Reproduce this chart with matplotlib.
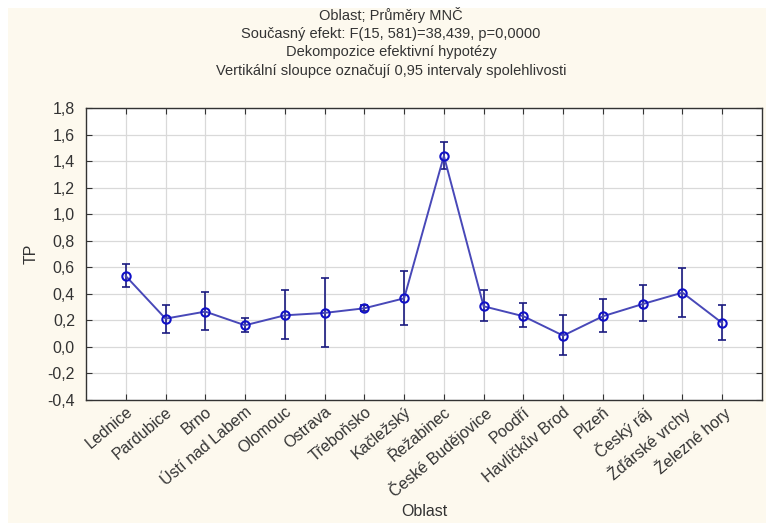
import numpy as np
import matplotlib
matplotlib.use('Agg')
import matplotlib.pyplot as plt
from matplotlib.ticker import FuncFormatter

plt.rcParams['font.family'] = ['Liberation Sans', 'DejaVu Sans']

# Průměry MNČ a 0,95 intervaly spolehlivosti
oblasti = ['Lednice', 'Pardubice', 'Brno', 'Ústí nad Labem', 'Olomouc', 'Ostrava',
           'Třeboňsko', 'Kačležský', 'Řežabinec', 'České Budějovice', 'Poodří',
           'Havlíčkův Brod', 'Plzeň', 'Český ráj', 'Žďárské vrchy', 'Železné hory']
prumer = [0.534, 0.213, 0.266, 0.163, 0.238, 0.256, 0.291, 0.366, 1.439, 0.306,
          0.231, 0.085, 0.231, 0.323, 0.409, 0.180]
horni = [0.625, 0.318, 0.411, 0.216, 0.429, 0.522, 0.312, 0.572, 1.544, 0.429,
         0.329, 0.243, 0.361, 0.464, 0.597, 0.318]
dolni = [0.454, 0.107, 0.125, 0.115, 0.057, -0.003, 0.270, 0.165, 1.343, 0.193,
         0.150, -0.061, 0.110, 0.193, 0.225, 0.050]

x = np.arange(len(oblasti))
prumer = np.array(prumer)
chyba = [prumer - np.array(dolni), np.array(horni) - prumer]

fig = plt.figure(figsize=(7.66, 5.23), dpi=100, facecolor='white')
# krémové pozadí grafu
fig.patches.append(plt.Rectangle((8 / 766, 0), 1, 1 - 8 / 523, transform=fig.transFigure,
                                 facecolor='#fdf9ee', edgecolor='none', zorder=-1))
ax = fig.add_axes([86 / 766, 123 / 523, 676 / 766, 292 / 523])
ax.set_facecolor('white')

ax.errorbar(x, prumer, yerr=chyba, fmt='none', ecolor='#1a1a80', elinewidth=1.2,
            capsize=3, capthick=1.2, zorder=3)
ax.plot(x, prumer, color='#4848b8', lw=1.4, marker='o', ms=6, mfc='none',
        mec='#1010c8', mew=1.5, zorder=4)

ax.set_xlim(-1, len(oblasti))
ax.set_ylim(-0.4, 1.8)
ax.set_yticks(np.arange(-0.4, 1.81, 0.2))
ax.yaxis.set_major_formatter(FuncFormatter(lambda v, p: f'{v:.1f}'.replace('.', ',').replace('-0,0', '0,0')))
ax.set_xticks(x)
ax.set_xticklabels(oblasti, rotation=40, ha='right', rotation_mode='anchor')
ax.grid(True, color='#d9d9d9', lw=0.9)
ax.set_axisbelow(True)
ax.tick_params(direction='in', top=True, right=True, length=4, color='#333333',
               labelsize=11.5, labelcolor='#333333')
ax.tick_params(axis='y', pad=8)
ax.tick_params(axis='x', pad=3)
for s in ax.spines.values():
    s.set_color('#333333')
    s.set_linewidth(1.0)

ax.set_ylabel('TP', fontsize=11.5, color='#333333', labelpad=6)
fig.text(424 / 766, 1 - 511 / 523, 'Oblast', ha='center', va='center', fontsize=11.5, color='#333333')

titulky = ['Oblast; Průměry MNČ',
           'Současný efekt: F(15, 581)=38,439, p=0,0000',
           'Dekompozice efektivní hypotézy',
           'Vertikální sloupce označují 0,95 intervaly spolehlivosti']
for i, t in enumerate(titulky):
    fig.text(391 / 766, 1 - (15 + 18.7 * i) / 523, t, ha='center', va='center',
             fontsize=10.5, color='#333333')

fig.savefig('out.png', dpi=100, facecolor=fig.get_facecolor())
